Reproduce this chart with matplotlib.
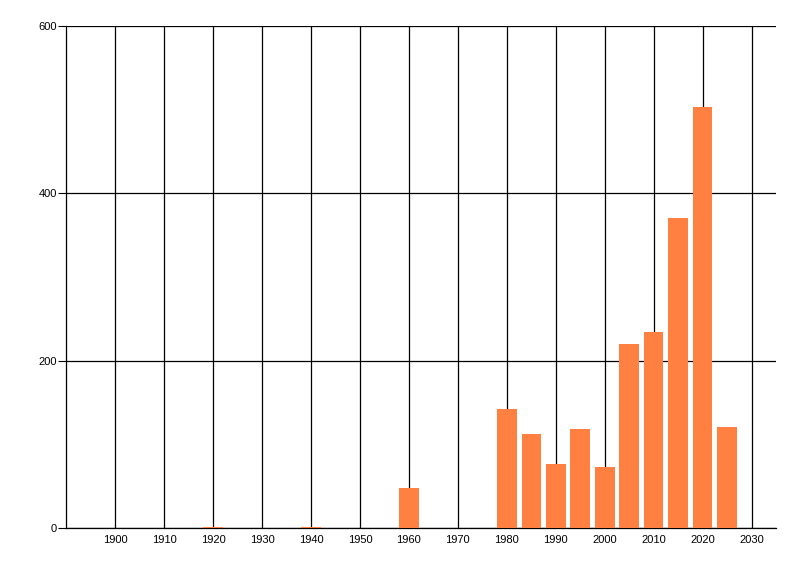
import matplotlib
matplotlib.use('Agg')
import matplotlib.pyplot as plt

# values
years = [1920, 1940, 1960, 1980, 1985, 1990, 1995, 2000, 2005, 2010, 2015, 2020, 2025]
counts = [1, 1, 48, 142, 112, 76, 118, 73, 220, 234, 370, 503, 121]
x_ticks = list(range(1900, 2031, 10))
y_ticks = [0, 200, 400, 600]

plt.rcParams['font.family'] = ['Liberation Sans', 'DejaVu Sans']

fig = plt.figure(figsize=(8, 5.76), dpi=100)
ax = fig.add_axes([0.083, 0.0833, 0.887, 0.8716])

ax.bar(years, counts, width=4, color='#FF8040', zorder=3)

ax.set_xlim(1890, 2035)
ax.set_ylim(0, 600)
ax.set_xticks(x_ticks)
ax.set_yticks(y_ticks)
ax.tick_params(axis='x', length=0, pad=5, labelsize=8)
ax.tick_params(axis='y', length=6, width=0.8, pad=1, labelsize=8)
ax.grid(True, color='black', linewidth=0.9, zorder=0)
ax.set_axisbelow(True)

for s in ['top', 'right']:
    ax.spines[s].set_visible(False)
for s in ['left', 'bottom']:
    ax.spines[s].set_color('black')
    ax.spines[s].set_linewidth(0.9)

plt.savefig('out.png', dpi=100)
plt.close()
